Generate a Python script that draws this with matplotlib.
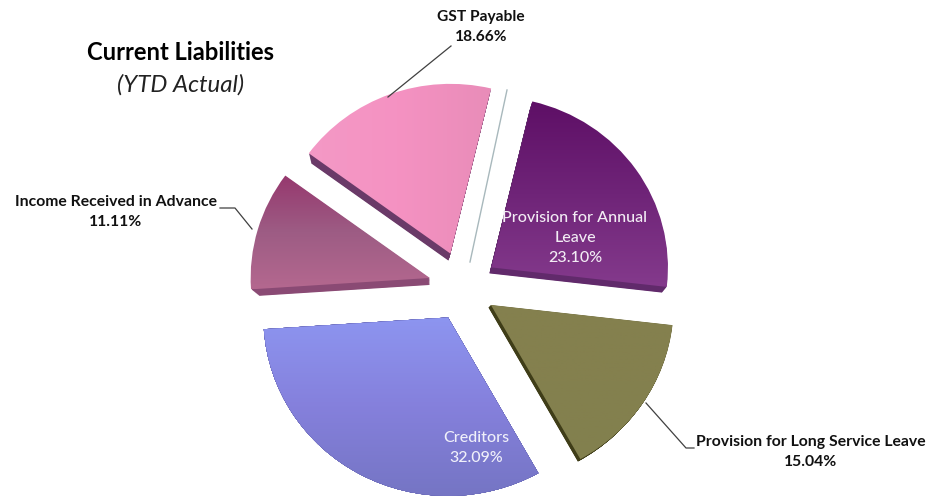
import numpy as np
import matplotlib
matplotlib.use("Agg")
import matplotlib.pyplot as plt
from matplotlib.patches import Wedge
from matplotlib.colors import LinearSegmentedColormap

# Data
categories = ["Provision for Annual Leave", "Provision for Long Service Leave", "Creditors",
              "Income Received in Advance", "GST Payable"]
shares = [23.10, 15.04, 32.09, 11.11, 18.66]

# Style
W, H = 928, 499
CX, CY, RX, RY = 461, 290, 181, 175
tops = [["#5e0f66", "#6f2478", "#843a8c"],
        ["#84804e", "#84804e", "#82804e"],
        ["#8d95f0", "#8580dc", "#7575c4"],
        ["#96386e", "#9d5c84", "#b4688f"],
        ["#f39ac6", "#f592c2", "#e88cb8"]]
grad_horizontal = [False, False, False, False, True]
sides = ["#612a6b", "#3f3d18", "#6a6ab8", "#8a4a74", "#6a3a68"]
# per-slice perspective tweaks, in pixels / radius fractions
nudges = [(3, -4), (2, -3), (3, -1), (1, -3), (1, -6)]
face_r = [0.975, 1.01, 1.02, 0.99, 0.97]
side_off = [(-2, 6), (-2.5, 2.5), (0, 0), (0, 7), (-2, 7)]
side_r = [0.96, 1.01, 1.02, 0.945, 0.94]

plt.rcParams["font.family"] = ["Lato", "DejaVu Sans"]
fig = plt.figure(figsize=(W / 100, H / 100), dpi=100, facecolor="white")
ax = fig.add_axes([0, 0, 1, 1])

wedges, _ = ax.pie(shares, startangle=76.6, counterclock=False, radius=1,
                   explode=[0.185] * 5, wedgeprops=dict(linewidth=0))
ax.set_aspect("auto")
xlim = (-CX / RX, (W - CX) / RX)
ylim = ((CY - H) / RY, CY / RY)

for w, top, horiz, side, nud, fr, so, sr in zip(wedges, tops, grad_horizontal, sides, nudges,
                                                face_r, side_off, side_r):
    cx, cy = w.center
    cx += nud[0] / RX
    cy -= nud[1] / RY
    th1, th2 = w.theta1, w.theta2
    w.set_visible(False)
    # extruded side
    for t in np.linspace(1, 0.1, 12):
        ax.add_patch(Wedge((cx + t * so[0] / RX, cy - t * so[1] / RY), fr + t * (sr - fr), th1, th2,
                           facecolor=side, edgecolor="none", zorder=2))
    # gradient face
    face = Wedge((cx, cy), fr, th1, th2, facecolor="none", edgecolor="none", zorder=3)
    ax.add_patch(face)
    g = np.linspace(0, 1, 256)
    g = g[None, :] if horiz else g[:, None]
    cmap = LinearSegmentedColormap.from_list("f", top)
    if horiz:
        im = ax.imshow(g, extent=(cx - 0.85, cx + 0.25, cy - 1, cy + 1), origin="upper", cmap=cmap,
                       aspect="auto", zorder=3, vmin=0, vmax=1)
    else:
        ys = [fr * np.sin(np.radians(a)) for a in np.linspace(th1, th2, 60)] + [0]
        im = ax.imshow(g, extent=(cx - 1.1, cx + 1.1, cy + min(ys), cy + max(ys)), origin="upper",
                       cmap=cmap, aspect="auto", zorder=3, vmin=0, vmax=1)
    im.set_clip_path(face)

ax.set_xlim(*xlim)
ax.set_ylim(*ylim)
ax.axis("off")


def px(x, y):
    return x / W, 1 - y / H


def label(x, y, s, **kw):
    fig.text(*px(x, y), s, ha="center", va="center", linespacing=1.55, zorder=10, **kw)


def leader(xs, ys, color="#404040", lw=0.9):
    fig.add_artist(plt.Line2D([x / W for x in xs], [1 - y / H for y in ys],
                              color=color, lw=lw, zorder=9))


label(181, 53, "Current Liabilities", fontsize=17.1, fontweight="bold", color="black")
label(181, 85, "(YTD Actual)", fontsize=17.3, fontstyle="italic", color="#222222")

label(481, 27, f"{categories[4]}\n{shares[4]:.2f}%", fontsize=11.2, fontweight="bold", color="#111111")
label(116, 212, f"{categories[3]}\n{shares[3]:.2f}%", fontsize=11.3, fontweight="bold", color="#111111")
label(811, 452, f"{categories[1]}\n{shares[1]:.2f}%", fontsize=11.3, fontweight="bold", color="#111111")
label(575, 238, "Provision for Annual\nLeave\n" + f"{shares[0]:.2f}%", fontsize=11.6, color="#f2ecf4",
      fontweight="medium")
label(476, 448, f"{categories[2]}\n{shares[2]:.2f}%", fontsize=11.5, color="#f0f0fa", fontweight="medium")

leader([388, 451], [97, 46])
leader([252, 235, 220], [229, 208, 208])
leader([646, 686, 694], [403, 448, 448])
leader([507, 470], [90, 262], color="#a8b8bc", lw=1.0)

fig.savefig("out.png", dpi=100, facecolor="white")
